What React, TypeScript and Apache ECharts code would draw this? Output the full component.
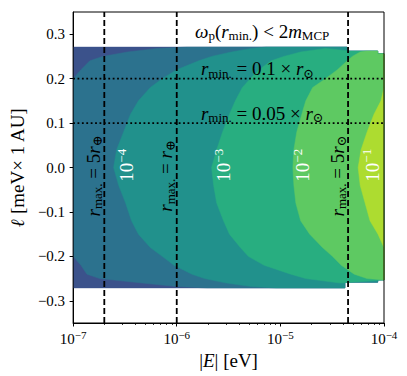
import React, { useEffect, useRef } from "react";
import * as echarts from "echarts";

const xMin = 1e-7;
const xMax = 1e-4;
const yMin = -0.35;
const yMax = 0.35;

const xTicks = [1e-7, 1e-6, 1e-5, 1e-4];
const xTickExponents = ["−7", "−6", "−5", "−4"];
const xMinorTicks = [
  2e-7, 3e-7, 4e-7, 5e-7, 6e-7, 7e-7, 8e-7, 9e-7,
  2e-6, 3e-6, 4e-6, 5e-6, 6e-6, 7e-6, 8e-6, 9e-6,
  2e-5, 3e-5, 4e-5, 5e-5, 6e-5, 7e-5, 8e-5, 9e-5,
];
const yTicks = [-0.3, -0.2, -0.1, 0, 0.1, 0.2, 0.3];
const yTickLabels = ["−0.3", "−0.2", "−0.1", "0.0", "0.1", "0.2", "0.3"];

// ℓ values (top to bottom) at which the contour boundaries are sampled
const ellGrid = [
  0.271, 0.268, 0.26, 0.25, 0.24, 0.22, 0.2, 0.18, 0.15, 0.12, 0.08, 0.04, 0,
  -0.04, -0.08, -0.12, -0.15, -0.18, -0.2, -0.22, -0.24, -0.25, -0.26, -0.268, -0.271,
];
// |E| where each filled level starts (region lies to the right of it)
const level1E = [
  1.25e-6, 6.5e-7, 3.35e-7, 1.93e-7, 1.45e-7, 1.19e-7, 1e-7, 1e-7, 1e-7, 1e-7, 1e-7, 1e-7, 1e-7,
  1e-7, 1e-7, 1e-7, 1e-7, 1e-7, 1e-7, 1.19e-7, 1.36e-7, 1.81e-7, 4.66e-7, 1.0e-6, 1.95e-6,
];
const level2E = [
  7.28e-6, 5.24e-6, 3.37e-6, 2.17e-6, 1.63e-6, 1.0e-6, 7.24e-7, 5.56e-7, 4.27e-7, 3.58e-7, 3.07e-7, 2.63e-7, 2.46e-7,
  2.75e-7, 3.21e-7, 3.66e-7, 4.27e-7, 5.56e-7, 7.24e-7, 9.42e-7, 1.4e-6, 1.86e-6, 3.02e-6, 5.24e-6, 9.08e-6,
];
const level3E = [
  4.72e-5, 2.73e-5, 1.57e-5, 1.08e-5, 8.13e-6, 6.25e-6, 5.13e-6, 4.3e-6, 3.68e-6, 3.23e-6, 2.77e-6, 2.43e-6, 2.17e-6,
  2.27e-6, 2.43e-6, 2.83e-6, 3.23e-6, 4.11e-6, 4.91e-6, 6.97e-6, 1.26e-5, 1.76e-5, 3.79e-5, 1e-4, 1e-4,
];
const level4E = [
  7.33e-5, 6.71e-5, 5.89e-5, 4.94e-5, 4.42e-5, 3.55e-5, 2.73e-5, 2.05e-5, 1.76e-5, 1.61e-5, 1.44e-5, 1.35e-5, 1.32e-5,
  1.35e-5, 1.41e-5, 1.57e-5, 1.92e-5, 2.55e-5, 3.18e-5, 3.87e-5, 5.16e-5, 6.87e-5, 1e-4, 1e-4, 1e-4,
];
const level5E = [
  1e-4, 1e-4, 1e-4, 1e-4, 1e-4, 1e-4, 1e-4, 1e-4, 9.34e-5, 8.01e-5, 6.87e-5, 6.01e-5, 5.63e-5,
  5.89e-5, 6.57e-5, 7.33e-5, 8.75e-5, 1e-4, 1e-4, 1e-4, 1e-4, 1e-4, 1e-4, 1e-4, 1e-4,
];
const levelColors = ["#3b528b", "#2c728e", "#21918c", "#28ae80", "#5ec962", "#addc30"];

// outer edge of the computed domain (steps near the right)
const edgeTopBreaksE = [4.4e-5, 8.7e-5];
const edgeTopEll = [0.271, 0.262, 0.256];
const edgeBottomBreaksE = [4.2e-5, 8.7e-5];
const edgeBottomEll = [-0.271, -0.258, -0.253];

const rmaxLinesE = [2e-7, 1e-6, 4.5e-5];
const rmaxLabels = [
  "{i|r}{sub|max.}{n| = 5}{i|r}{sub|⊕}",
  "{i|r}{sub|max.}{n| = }{i|r}{sub|⊕}",
  "{i|r}{sub|max.}{n| = 5}{i|r}{sub|⊙}",
];
const rmaxLabelEll = -0.019;
const rminLinesEll = [0.2, 0.1];
const rminLabels = [
  "{i|r}{sub|min.}{n| = 0.1 × }{i|r}{sub|⊙}",
  "{i|r}{sub|min.}{n| = 0.05 × }{i|r}{sub|⊙}",
];
const rminLabelE = 1.71e-6;
const rminLabelOffsetEll = 0.022;
const titleText = "{i|ω}{sub|p}{n|(}{i|r}{sub|min.}{n|) < 2}{i|m}{sub|MCP}";
const titleE = 1.5e-6;
const titleEll = 0.307;
const contourLabelE = [3.28e-7, 2.83e-6, 1.64e-5, 7.66e-5];
const contourLabelExp = ["−4", "−3", "−2", "−1"];
const contourLabelEll = 0.005;

const FF = "'Liberation Serif', 'DejaVu Serif', serif";

function richMath(size: number, color: string) {
  return {
    n: { fontFamily: FF, fontSize: size, color, fill: color },
    i: { fontFamily: FF, fontSize: size, fontStyle: "italic", color, fill: color },
    sub: {
      fontFamily: FF,
      fontSize: Math.round(size * 0.7),
      color,
      fill: color,
      padding: [Math.round(size * 0.45), 0, 0, 0],
    },
    sup: {
      fontFamily: FF,
      fontSize: Math.round(size * 0.7),
      color,
      fill: color,
      padding: [0, 0, Math.round(size * 0.6), 0],
    },
  };
}

function edgeAt(E: number, breaks: number[], ells: number[]) {
  let k = 0;
  while (k < breaks.length && E >= breaks[k]) k++;
  return ells[k];
}

function regionPolygon(bE: number[], bL: number[]) {
  const pts: number[][] = [];
  for (let i = 0; i < bE.length; i++) {
    const E = bE[i];
    const top = edgeAt(E, edgeTopBreaksE, edgeTopEll);
    const bot = edgeAt(E, edgeBottomBreaksE, edgeBottomEll);
    pts.push([E, Math.min(top, Math.max(bot, bL[i]))]);
  }
  const eLast = bE[bE.length - 1];
  for (let k = 0; k < edgeBottomBreaksE.length; k++) {
    if (edgeBottomBreaksE[k] > eLast) {
      pts.push([edgeBottomBreaksE[k], edgeBottomEll[k]]);
      pts.push([edgeBottomBreaksE[k], edgeBottomEll[k + 1]]);
    }
  }
  pts.push([xMax, edgeBottomEll[edgeBottomEll.length - 1]]);
  pts.push([xMax, edgeTopEll[edgeTopEll.length - 1]]);
  const eFirst = bE[0];
  for (let k = edgeTopBreaksE.length - 1; k >= 0; k--) {
    if (edgeTopBreaksE[k] > eFirst) {
      pts.push([edgeTopBreaksE[k], edgeTopEll[k + 1]]);
      pts.push([edgeTopBreaksE[k], edgeTopEll[k]]);
    }
  }
  return pts;
}

export default function App() {
  const ref = useRef<HTMLDivElement>(null);
  useEffect(() => {
    if (!ref.current) return;
    const chart = echarts.init(ref.current, null, { renderer: "svg" });
    const polygons = [
      regionPolygon([xMin, xMin], [edgeTopEll[0], edgeBottomEll[0]]),
      regionPolygon(level1E, ellGrid),
      regionPolygon(level2E, ellGrid),
      regionPolygon(level3E, ellGrid),
      regionPolygon(level4E, ellGrid),
      regionPolygon(level5E, ellGrid),
    ];
    const lineSeries: any[] = [];
    rmaxLinesE.forEach((E) =>
      lineSeries.push({
        type: "line",
        data: [[E, yMin], [E, yMax]],
        symbol: "none",
        silent: true,
        z: 5,
        lineStyle: { color: "#000", width: 1.8, type: [6, 3] },
      })
    );
    rminLinesEll.forEach((l) =>
      lineSeries.push({
        type: "line",
        data: [[xMin, l], [xMax, l]],
        symbol: "none",
        silent: true,
        z: 5,
        lineStyle: { color: "#000", width: 1.8, type: [1.8, 2.6] },
      })
    );
    const axisRich = richMath(15, "#000");
    const mathSize = 19;
    const option: any = {
      animation: false,
      textStyle: { fontFamily: FF },
      grid: {
        left: 70,
        top: 12,
        width: 314,
        height: 311,
        show: true,
        borderColor: "#000",
        borderWidth: 1,
        backgroundColor: "rgba(0,0,0,0)",
        z: 10,
      },
      xAxis: [
        {
          type: "log",
          min: xMin,
          max: xMax,
          logBase: 10,
          position: "bottom",
          axisLine: { onZero: false, lineStyle: { color: "#000", width: 1 } },
          axisTick: { show: true, length: 3.5, lineStyle: { color: "#000", width: 1 } },
          splitLine: { show: false },
          axisLabel: {
            margin: 6,
            fontFamily: FF,
            fontSize: 15,
            color: "#000",
            formatter: (v: number) => {
              let idx = 0;
              xTicks.forEach((t, i) => {
                if (Math.abs(Math.log10(t) - Math.log10(v)) < 0.01) idx = i;
              });
              return "{n|10}{sup|" + xTickExponents[idx] + "}";
            },
            rich: axisRich,
          },
          name: "{n||}{i|E}{n|| [eV]}",
          nameLocation: "middle",
          nameGap: 25,
          nameTextStyle: { fontFamily: FF, fontSize: mathSize, color: "#000", rich: richMath(mathSize, "#000") },
        },
        {
          type: "value",
          min: -7,
          max: -4,
          position: "bottom",
          axisLine: { show: false, onZero: false },
          axisLabel: { show: false },
          splitLine: { show: false },
          axisTick: {
            show: true,
            length: 2,
            customValues: xMinorTicks.map((e) => Math.log10(e)),
            lineStyle: { color: "#000", width: 0.8 },
          },
        },
      ],
      yAxis: {
        type: "value",
        min: yMin,
        max: yMax,
        axisLine: { show: true, onZero: false, lineStyle: { color: "#000", width: 1 } },
        axisTick: { show: true, length: 3.5, customValues: yTicks, lineStyle: { color: "#000", width: 1 } },
        splitLine: { show: false },
        axisLabel: {
          margin: 8,
          fontFamily: FF,
          fontSize: 15,
          color: "#000",
          customValues: yTicks,
          formatter: (v: number) => {
            let idx = 0;
            yTicks.forEach((t, i) => {
              if (Math.abs(t - v) < 1e-6) idx = i;
            });
            return "{n|" + yTickLabels[idx] + "}";
          },
          rich: axisRich,
        },
        name: "{i|ℓ}{n| [meV× 1 AU]}",
        nameLocation: "middle",
        nameGap: 42,
        nameRotate: 90,
        nameTextStyle: { fontFamily: FF, fontSize: mathSize, color: "#000", rich: richMath(mathSize, "#000") },
      },
      series: [
        {
          type: "custom",
          coordinateSystem: "cartesian2d",
          xAxisIndex: 0,
          yAxisIndex: 0,
          silent: true,
          clip: true,
          z: 2,
          data: [xMin, level1E[12], level2E[12], level3E[12], level4E[12], level5E[12]].map((e) => [e, 0]),
          renderItem: (params: any, api: any) => {
            const pts = polygons[params.dataIndex].map((p) => api.coord(p));
            return {
              type: "polygon",
              shape: { points: pts },
              style: { fill: levelColors[params.dataIndex], stroke: levelColors[params.dataIndex], lineWidth: 0.5 },
            };
          },
        },
        ...lineSeries,
      ],
    };
    chart.setOption(option);

    const toPx = (E: number, l: number) =>
      chart.convertToPixel({ xAxisIndex: 0, yAxisIndex: 0 }, [E, l]) as number[];
    const graphics: any[] = [];
    const black = richMath(mathSize, "#000");
    const white = richMath(mathSize, "#fff");
    {
      const p = toPx(titleE, titleEll);
      graphics.push({
        type: "text",
        x: p[0],
        y: p[1],
        z: 20,
        style: { text: titleText, rich: black, align: "left", verticalAlign: "middle", fill: "#000" },
      });
    }
    rminLabels.forEach((t, i) => {
      const p = toPx(rminLabelE, rminLinesEll[i] + rminLabelOffsetEll);
      graphics.push({
        type: "text",
        x: p[0],
        y: p[1],
        z: 20,
        style: { text: t, rich: black, align: "left", verticalAlign: "middle", fill: "#000" },
      });
    });
    rmaxLabels.forEach((t, i) => {
      const p = toPx(rmaxLinesE[i], rmaxLabelEll);
      graphics.push({
        type: "text",
        x: p[0] - 11,
        y: p[1],
        rotation: Math.PI / 2,
        z: 20,
        style: { text: t, rich: black, align: "center", verticalAlign: "middle", fill: "#000" },
      });
    });
    contourLabelE.forEach((E, i) => {
      const p = toPx(E, contourLabelEll);
      graphics.push({
        type: "text",
        x: p[0],
        y: p[1],
        rotation: Math.PI / 2,
        z: 20,
        style: {
          text: "{n|10}{sup|" + contourLabelExp[i] + "}",
          rich: white,
          align: "center",
          verticalAlign: "middle",
          fill: "#fff",
        },
      });
    });
    chart.setOption({ graphic: graphics });

    return () => chart.dispose();
  }, []);
  return (
    <div
      ref={ref}
      style={{ position: "fixed", left: 0, top: 0, width: 407, height: 376, background: "#fff" }}
    />
  );
}
